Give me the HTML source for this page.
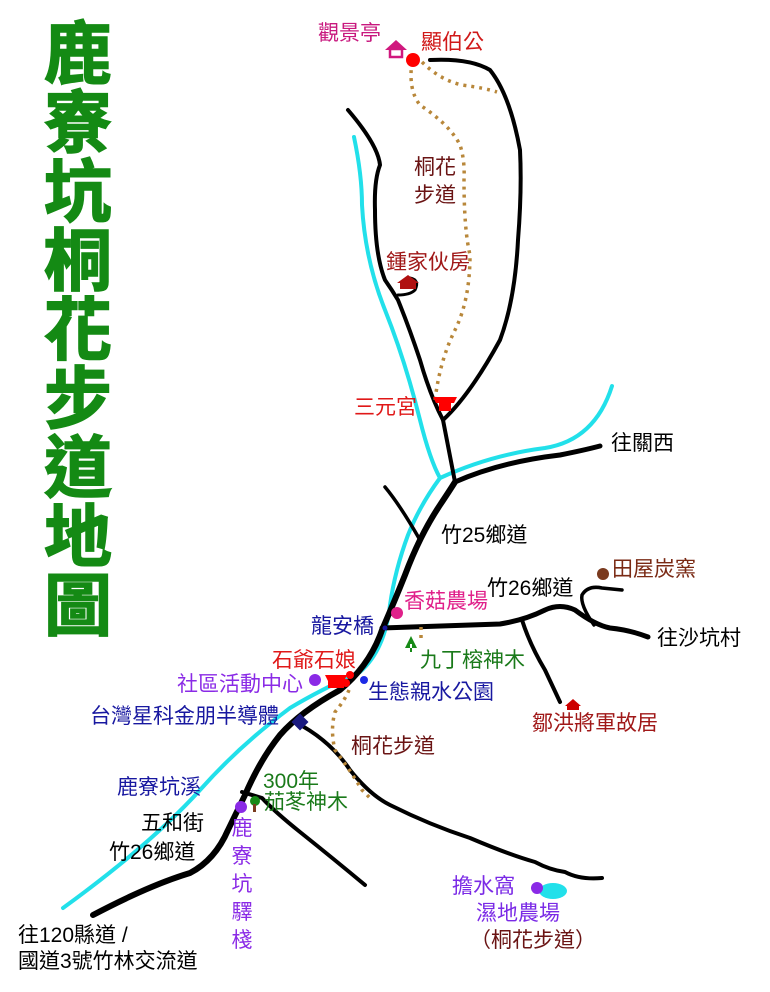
<!DOCTYPE html>
<html><head><meta charset="utf-8"><style>
html,body{margin:0;padding:0;background:#fff;}
svg{display:block;}
text{font-family:"Liberation Sans","Noto Sans CJK TC",sans-serif;}
</style></head><body>
<svg width="770" height="992" viewBox="0 0 770 992" xmlns="http://www.w3.org/2000/svg">
<rect width="770" height="992" fill="#fff"/>
<g font-size="68" font-weight="bold" fill="#148a14" stroke="#148a14" stroke-width="1.5" text-anchor="middle">
<text x="78" y="78">鹿</text><text x="78" y="147">寮</text><text x="78" y="216">坑</text>
<text x="78" y="285">桐</text><text x="78" y="354">花</text><text x="78" y="423">步</text>
<text x="78" y="492">道</text><text x="78" y="561">地</text><text x="78" y="630">圖</text>
</g>
<g fill="none" stroke="#22e0ea" stroke-width="4" stroke-linecap="round">
<path d="M354,137 Q362,175 362,205 Q365,260 385,310 Q405,360 420,420 Q430,460 440,478 Q420,505 408,535 Q395,570 390,605 Q385,650 360,672 Q320,690 290,708 Q240,745 200,790 Q150,845 63,908"/>
<path d="M440,478 Q490,455 545,448 Q595,440 612,386"/>
<ellipse cx="553" cy="891" rx="14" ry="8" fill="#22e0ea" stroke="none"/>
</g>
<g fill="none" stroke="#000" stroke-linecap="round" stroke-linejoin="round">
<path stroke-width="6" d="M93,915 Q150,885 190,873 Q215,860 228,830 L245,795 Q260,760 280,735 Q300,712 340,690 Q370,665 382,630 Q395,600 405,575 Q420,535 440,505 Q450,490 455,482"/>
<path stroke-width="5" d="M455,482 Q500,462 560,455 Q585,450 600,446"/>
<path stroke-width="4" d="M455,482 L443,420 Q430,395 420,360 Q410,330 400,305 L398,300 Q392,290 385,280 Q375,255 375,210 Q374,180 380,165 Q378,145 348,110"/>
<path stroke-width="4" d="M443,420 Q470,395 500,340 Q515,300 518,240 Q522,190 520,150 Q510,95 490,70 Q470,58 430,60"/>
<path stroke-width="3" d="M398,295 Q410,295 415,290 Q420,280 410,278"/>
<path stroke-width="3.5" d="M385,487 Q400,505 420,540"/>
<path stroke-width="5" d="M382,628 Q440,626 500,624 Q525,620 545,610 Q560,603 575,610 Q595,625 610,628 Q630,630 648,637"/>
<path stroke-width="4" d="M522,620 Q530,645 545,670 L560,702"/>
<path stroke-width="3.5" d="M594,625 Q580,605 582,595 Q588,585 602,588 L622,590"/>
<path stroke-width="4" d="M295,722 Q330,740 350,770 Q370,795 390,805 Q430,825 470,838 Q510,855 535,862 Q550,870 565,872 Q580,880 602,878"/>
<path stroke-width="4" d="M242,792 L262,798 Q275,812 300,832 Q335,860 365,885"/>
</g>
<g fill="none" stroke="#b8873a" stroke-width="3.5" stroke-dasharray="3,5">
<path d="M412,62 Q408,90 420,105 Q450,125 460,145 Q465,160 464,180 Q464,230 470,255 Q470,300 455,330 Q440,360 435,400"/>
<path d="M422,62 Q440,80 462,85 Q485,88 497,92"/>
<path d="M349,690 Q345,700 335,712 Q330,730 335,750 Q350,770 362,790 L372,800"/>
<path d="M421,627 L421,640"/>
</g>
<circle cx="413" cy="60" r="7" fill="#f00"/>
<path d="M385,50 L396,40 L407,50 Z" fill="#d0187e"/><rect x="390" y="49" width="12" height="8" fill="#fff" stroke="#d0187e" stroke-width="2.5"/>
<path d="M397,283 L408,275 L419,283 Z M400,282 h16 v7 h-16z" fill="#b01010"/>
<path d="M433,397 h24 l-3,6 h-3 v8 h-12 v-8 h-3z" fill="#f00"/>
<circle cx="397" cy="613" r="6" fill="#e0208a"/>
<circle cx="385" cy="628" r="2.5" fill="#1818a0"/>
<path d="M411,636 L405,648 L417,648Z M410,644 h2 v8 h-2z" fill="#178a17"/>
<circle cx="603" cy="574" r="6" fill="#7a3a1e"/>
<path d="M565,706 L573,699 L581,706 Z M567,705 h12 v5 h-12z" fill="#c00"/>
<circle cx="315" cy="680" r="6" fill="#8a2ae6"/>
<path d="M325,675 h22 l-3,6 v7 h-16 v-7z" fill="#f00"/>
<circle cx="350" cy="675" r="4" fill="#f00"/><circle cx="346" cy="683" r="4" fill="#f00"/>
<circle cx="364" cy="680" r="4" fill="#1c2ae6"/>
<rect x="294" y="716" width="12" height="12" fill="#1a1a80" transform="rotate(45 300 722)"/>
<circle cx="241" cy="807" r="6" fill="#8a2ae6"/>
<circle cx="255" cy="801" r="5" fill="#178a17"/><rect x="253" y="804" width="3" height="8" fill="#7a3a1e"/>
<circle cx="537" cy="888" r="6" fill="#8a2ae6"/>
<g font-size="21">
<text x="318" y="40" fill="#c8187e">觀景亭</text>
<text x="421" y="49" fill="#d01818">顯伯公</text>
<text x="414" y="174" fill="#6a1414">桐花</text>
<text x="414" y="202" fill="#6a1414">步道</text>
<text x="386" y="269" fill="#a01818">鍾家伙房</text>
<text x="354" y="414" fill="#e01818">三元宮</text>
<text x="611" y="450" fill="#000">往關西</text>
<text x="441" y="542" fill="#000">竹25鄉道</text>
<text x="612" y="576" fill="#7a2a14">田屋炭窯</text>
<text x="487" y="595" fill="#000">竹26鄉道</text>
<text x="404" y="608" fill="#e0208a">香菇農場</text>
<text x="311" y="633" fill="#1818a0">龍安橋</text>
<text x="657" y="645" fill="#000">往沙坑村</text>
<text x="272" y="667" fill="#e01818">石爺石娘</text>
<text x="420" y="667" fill="#1a7a1a">九丁榕神木</text>
<text x="177" y="691" fill="#8a2ae6">社區活動中心</text>
<text x="368" y="699" fill="#1818a0">生態親水公園</text>
<text x="90" y="723" fill="#1818a0">台灣星科金朋半導體</text>
<text x="532" y="730" fill="#a01818">鄒洪將軍故居</text>
<text x="351" y="753" fill="#6a1414">桐花步道</text>
<text x="263" y="788" fill="#1a7a1a">300年</text>
<text x="264" y="809" fill="#1a7a1a">茄苳神木</text>
<text x="117" y="794" fill="#1818a0">鹿寮坑溪</text>
<text x="141" y="830" fill="#000">五和街</text>
<text x="109" y="859" fill="#000">竹26鄉道</text>
<text x="452" y="893" fill="#7a2ae6">擔水窩</text>
<text x="476" y="920" fill="#7a2ae6">濕地農場</text>
<text x="470" y="947" fill="#6a1414">（桐花步道）</text>
<text x="18" y="942" fill="#000">往120縣道 /</text>
<text x="18" y="968" fill="#000">國道3號竹林交流道</text>
</g>
<g font-size="21" fill="#8a2ae6" text-anchor="middle">
<text x="242" y="835">鹿</text><text x="242" y="863">寮</text><text x="242" y="891">坑</text><text x="242" y="919">驛</text><text x="242" y="947">棧</text>
</g>
</svg>
</body></html>
